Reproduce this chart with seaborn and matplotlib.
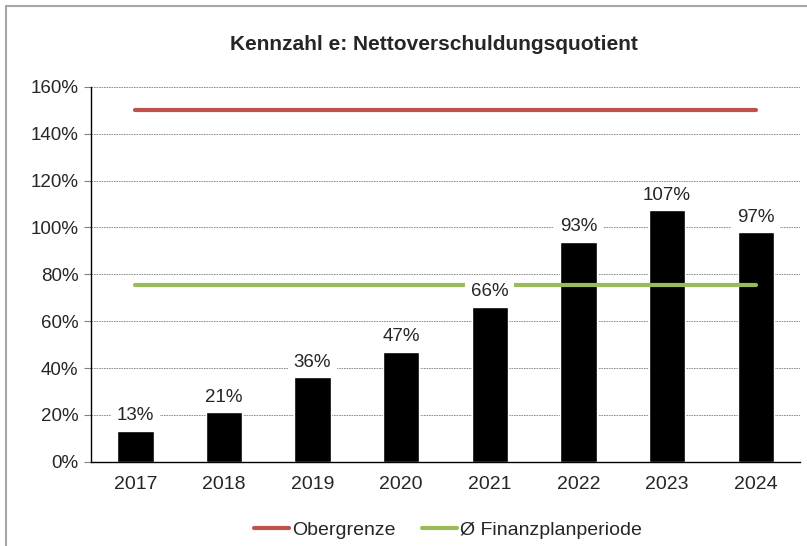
import matplotlib
matplotlib.use('Agg')
import matplotlib.pyplot as plt
import seaborn as sns
import pandas as pd
from matplotlib.patches import Rectangle
from matplotlib.ticker import PercentFormatter

# Daten
jahre = ['2017', '2018', '2019', '2020', '2021', '2022', '2023', '2024']
quotient = [13.3, 21.3, 36.0, 47.0, 66.2, 94.0, 107.3, 98.0]
labels = ['13%', '21%', '36%', '47%', '66%', '93%', '107%', '97%']
obergrenze = [150.0] * 8
durchschnitt = [75.5] * 8

sns.set_style('white')
plt.rcParams['font.family'] = ['Liberation Sans', 'DejaVu Sans']

df = pd.DataFrame({'Jahr': jahre, 'Wert': quotient})

fig = plt.figure(figsize=(8.07, 5.46), dpi=100)
ax = fig.add_axes([0.1128, 0.1544, 0.8785, 0.6863])

# Rahmen um das Diagramm
fig.patches.append(Rectangle((6 / 807, -0.1), 1.2, 1 - 6 / 546 + 0.1,
                             transform=fig.transFigure, fill=False,
                             edgecolor='#a6a6a6', linewidth=1.5))

sns.barplot(data=df, x='Jahr', y='Wert', color='black', width=0.41,
            saturation=1, ax=ax, zorder=2)

x = list(range(len(jahre)))
ax.plot(x, obergrenze, color='#C0504D', linewidth=3, label='Obergrenze', zorder=3)
ax.plot(x, durchschnitt, color='#9BBB59', linewidth=3, label='Ø Finanzplanperiode', zorder=3)

for i, (v, t) in enumerate(zip(quotient, labels)):
    ax.text(i, v + 6.3, t, ha='center', va='center', fontsize=13.5, zorder=4,
            bbox=dict(facecolor='white', edgecolor='none', pad=4))

ax.set_ylim(0, 160)
ax.set_xlim(-0.5, len(jahre) - 0.5)
ax.set_yticks(range(0, 161, 20))
ax.yaxis.set_major_formatter(PercentFormatter(decimals=0))
ax.grid(axis='y', color='#808080', linestyle=(0, (2, 1)), linewidth=0.6, zorder=0)
ax.set_axisbelow(True)
ax.tick_params(axis='y', length=5, color='#808080', labelsize=13.5, pad=4, left=True)
ax.tick_params(axis='x', length=0, labelsize=14, pad=10)
ax.set_xlabel('')
ax.set_ylabel('')

for s in ['top', 'right']:
    ax.spines[s].set_visible(False)
for s in ['left', 'bottom']:
    ax.spines[s].set_color('black')
    ax.spines[s].set_linewidth(1)

fig.suptitle('Kennzahl e: Nettoverschuldungsquotient', fontsize=15,
             fontweight='bold', x=434 / 807, y=1 - 45 / 546, va='center')

fig.legend(loc='center', bbox_to_anchor=(448 / 807, 1 - 530 / 546), ncol=2, frameon=False,
           fontsize=14, handlelength=1.8, handletextpad=0.15, columnspacing=1.35)

fig.savefig('out.png', dpi=100)
